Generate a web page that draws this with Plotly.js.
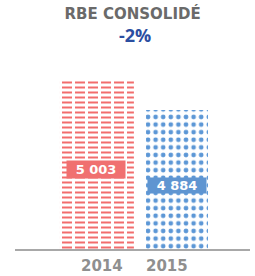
<!DOCTYPE html>
<html>
<head>
<meta charset="utf-8">
<script src="https://cdn.plot.ly/plotly-3.0.1.min.js"></script>
<style>html,body{margin:0;padding:0;background:#fff;}#chart{width:255px;height:276px;}</style>
</head>
<body>
<div id="chart"></div>
<script>
var categories = ['2014', '2015'];
var values = [5003, 4884];
var valueLabels = ['5 003', '4 884'];
var titleText = 'RBE CONSOLIDÉ';
var changeText = '-2%';

var barColors = ['#f26d6d', '#5c97d6'];
var labelBoxColors = ['#f07070', '#5f95d1'];

var traces = [
  {
    type: 'bar',
    x: categories,
    y: values,
    width: [0.93, 0.77],
    marker: {
      color: '#ffffff',
      line: {width: 0},
      pattern: {
        shape: ['-', '.'],
        fgcolor: barColors,
        bgcolor: '#ffffff',
        size: [5, 7.6],
        solidity: [0.4, 0.3],
        fillmode: 'replace'
      }
    },
    hoverinfo: 'none',
    showlegend: false
  },
  {
    type: 'bar',
    x: categories.slice(0, 1),
    y: values.slice(0, 1),
    width: [0.93],
    marker: {
      color: 'rgba(0,0,0,0)',
      line: {width: 0},
      pattern: {
        shape: '|',
        fgcolor: '#ffffff',
        bgcolor: 'rgba(0,0,0,0)',
        size: 13,
        solidity: 0.23,
        fillmode: 'replace'
      }
    },
    hoverinfo: 'none',
    showlegend: false
  }
];

var annotations = [];
categories.forEach(function (c, i) {
  annotations.push({
    x: i, y: 0, xref: 'x', yref: 'paper',
    yanchor: 'top', xanchor: 'center',
    yshift: -6, xshift: i === 0 ? 6 : -10,
    text: '<b>' + c + '</b>',
    showarrow: false,
    font: {family: 'DejaVu Sans', size: 15, color: '#8f8f8f'}
  });
  annotations.push({
    x: i, y: values[i], xref: 'x', yref: 'y',
    yanchor: 'middle', xanchor: 'center',
    yshift: i === 0 ? -89 : -76,
    text: '<b>' + valueLabels[i] + '</b>',
    showarrow: false,
    bgcolor: labelBoxColors[i],
    width: 56, height: i === 0 ? 15 : 13,
    borderpad: 1,
    font: {family: 'DejaVu Sans', size: 13, color: '#ffffff'}
  });
});
annotations.push({
  x: 0.51, y: 1.13, xref: 'paper', yref: 'paper',
  xanchor: 'center', yanchor: 'middle',
  text: '<b>' + changeText + '</b>',
  showarrow: false,
  font: {family: 'Open Sans', size: 18, color: '#2b4ea1'}
});

var layout = {
  width: 255, height: 276,
  margin: {l: 15, r: 5, t: 60, b: 27, pad: 0},
  paper_bgcolor: '#ffffff', plot_bgcolor: '#ffffff',
  barmode: 'overlay',
  title: {
    text: '<b>' + titleText + '</b>',
    x: 0.52, xref: 'container', xanchor: 'center',
    y: 0.951, yref: 'container', yanchor: 'middle',
    font: {family: 'DejaVu Sans', size: 15, color: '#6a6a6a'}
  },
  xaxis: {
    type: 'category',
    range: [-1.012, 1.907],
    showline: true, linecolor: '#a8a8a8', linewidth: 2,
    showticklabels: false, ticks: '', showgrid: false, zeroline: false,
    fixedrange: true
  },
  yaxis: {
    range: [4314, 5089],
    visible: false, showgrid: false, zeroline: false, fixedrange: true
  },
  annotations: annotations,
  showlegend: false
};

Plotly.newPlot('chart', traces, layout, {displayModeBar: false, staticPlot: true});
</script>
</body>
</html>
